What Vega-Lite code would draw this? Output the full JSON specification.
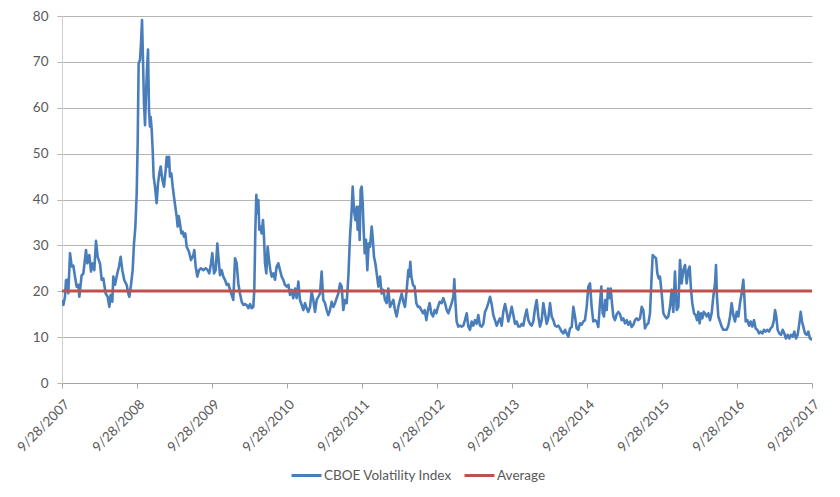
{
  "$schema": "https://vega.github.io/schema/vega-lite/v6.json",
  "width": 750,
  "height": 367,
  "autosize": {"type": "none"},
  "padding": {"left": 62, "top": 16, "right": 28, "bottom": 114},
  "background": "white",
  "config": {"view": {"stroke": null}, "font": "Lato"},
  "datasets": {
    "vix": [
      {"years":0.000,"vix":18.1},{"years":0.018,"vix":17.0},{"years":0.040,"vix":18.8},{"years":0.053,"vix":22.4},{"years":0.071,"vix":22.5},{"years":0.084,"vix":19.6},{"years":0.107,"vix":28.3},{"years":0.129,"vix":25.4},{"years":0.151,"vix":25.6},{"years":0.173,"vix":23.2},{"years":0.196,"vix":21.0},{"years":0.218,"vix":21.4},{"years":0.231,"vix":18.8},{"years":0.262,"vix":23.5},{"years":0.284,"vix":23.8},{"years":0.320,"vix":29.0},{"years":0.338,"vix":26.1},{"years":0.364,"vix":27.9},{"years":0.387,"vix":24.3},{"years":0.409,"vix":26.1},{"years":0.431,"vix":24.6},{"years":0.453,"vix":31.0},{"years":0.476,"vix":27.5},{"years":0.507,"vix":26.0},{"years":0.529,"vix":22.5},{"years":0.551,"vix":22.8},{"years":0.582,"vix":19.5},{"years":0.609,"vix":18.8},{"years":0.631,"vix":16.6},{"years":0.649,"vix":19.2},{"years":0.671,"vix":17.7},{"years":0.684,"vix":23.2},{"years":0.707,"vix":21.4},{"years":0.738,"vix":23.9},{"years":0.760,"vix":25.4},{"years":0.782,"vix":27.5},{"years":0.804,"vix":24.6},{"years":0.831,"vix":22.4},{"years":0.862,"vix":21.4},{"years":0.884,"vix":19.5},{"years":0.898,"vix":18.8},{"years":0.920,"vix":21.4},{"years":0.942,"vix":24.6},{"years":0.960,"vix":30.4},{"years":0.978,"vix":34.0},{"years":0.996,"vix":41.3},{"years":1.009,"vix":52.2},{"years":1.022,"vix":69.7},{"years":1.040,"vix":70.4},{"years":1.053,"vix":74.0},{"years":1.067,"vix":79.1},{"years":1.080,"vix":70.4},{"years":1.093,"vix":61.0},{"years":1.107,"vix":56.2},{"years":1.120,"vix":63.1},{"years":1.133,"vix":68.2},{"years":1.147,"vix":72.7},{"years":1.160,"vix":59.5},{"years":1.173,"vix":55.9},{"years":1.182,"vix":58.0},{"years":1.196,"vix":55.2},{"years":1.209,"vix":50.8},{"years":1.222,"vix":45.0},{"years":1.240,"vix":42.8},{"years":1.262,"vix":39.2},{"years":1.280,"vix":43.5},{"years":1.298,"vix":45.7},{"years":1.316,"vix":47.2},{"years":1.338,"vix":44.3},{"years":1.360,"vix":42.8},{"years":1.382,"vix":46.4},{"years":1.396,"vix":49.3},{"years":1.413,"vix":47.2},{"years":1.427,"vix":49.3},{"years":1.440,"vix":45.0},{"years":1.458,"vix":45.7},{"years":1.476,"vix":42.8},{"years":1.493,"vix":40.6},{"years":1.511,"vix":38.4},{"years":1.529,"vix":36.3},{"years":1.542,"vix":34.1},{"years":1.556,"vix":36.4},{"years":1.573,"vix":34.8},{"years":1.591,"vix":32.6},{"years":1.609,"vix":33.0},{"years":1.627,"vix":31.9},{"years":1.644,"vix":32.6},
      {"years":1.662,"vix":29.7},{"years":1.693,"vix":28.6},{"years":1.720,"vix":26.8},{"years":1.751,"vix":27.9},{"years":1.764,"vix":29.0},{"years":1.782,"vix":25.4},{"years":1.804,"vix":23.2},{"years":1.827,"vix":24.6},{"years":1.853,"vix":25.0},{"years":1.884,"vix":24.6},{"years":1.916,"vix":25.0},{"years":1.942,"vix":24.6},{"years":1.964,"vix":23.9},{"years":1.987,"vix":26.1},{"years":2.004,"vix":28.3},{"years":2.027,"vix":23.9},{"years":2.049,"vix":24.6},{"years":2.071,"vix":30.4},{"years":2.089,"vix":26.8},{"years":2.107,"vix":23.5},{"years":2.129,"vix":24.6},{"years":2.151,"vix":23.2},{"years":2.173,"vix":22.5},{"years":2.196,"vix":21.4},{"years":2.218,"vix":21.6},{"years":2.240,"vix":20.3},{"years":2.262,"vix":19.2},{"years":2.284,"vix":18.1},{"years":2.307,"vix":27.2},{"years":2.329,"vix":26.1},{"years":2.351,"vix":21.7},{"years":2.373,"vix":19.5},{"years":2.396,"vix":17.7},{"years":2.418,"vix":17.0},{"years":2.440,"vix":17.2},{"years":2.462,"vix":17.0},{"years":2.484,"vix":16.3},{"years":2.507,"vix":17.2},{"years":2.529,"vix":16.3},{"years":2.551,"vix":16.6},{"years":2.564,"vix":20.3},{"years":2.578,"vix":33.4},{"years":2.591,"vix":41.0},{"years":2.604,"vix":37.0},{"years":2.618,"vix":39.9},{"years":2.631,"vix":33.4},{"years":2.644,"vix":34.1},{"years":2.662,"vix":32.6},{"years":2.680,"vix":35.5},{"years":2.693,"vix":31.9},{"years":2.707,"vix":26.1},{"years":2.724,"vix":23.9},{"years":2.742,"vix":29.7},{"years":2.760,"vix":26.8},{"years":2.778,"vix":24.6},{"years":2.796,"vix":23.2},{"years":2.818,"vix":23.9},{"years":2.840,"vix":22.5},{"years":2.862,"vix":25.4},{"years":2.884,"vix":26.1},{"years":2.907,"vix":24.6},{"years":2.929,"vix":23.2},{"years":2.951,"vix":22.5},{"years":2.973,"vix":21.4},{"years":2.996,"vix":21.0},{"years":3.018,"vix":21.4},{"years":3.040,"vix":19.2},{"years":3.062,"vix":20.3},{"years":3.084,"vix":18.5},{"years":3.107,"vix":20.6},{"years":3.129,"vix":18.5},{"years":3.151,"vix":22.1},{"years":3.173,"vix":18.1},{"years":3.196,"vix":17.0},{"years":3.218,"vix":15.9},{"years":3.240,"vix":17.4},{"years":3.262,"vix":16.3},{"years":3.284,"vix":15.5},{"years":3.307,"vix":16.6},{"years":3.329,"vix":19.9},{"years":3.351,"vix":18.1},{"years":3.373,"vix":15.5},
      {"years":3.396,"vix":18.1},{"years":3.418,"vix":18.8},{"years":3.440,"vix":19.5},{"years":3.462,"vix":24.3},{"years":3.484,"vix":18.1},{"years":3.507,"vix":17.4},{"years":3.529,"vix":15.9},{"years":3.551,"vix":14.8},{"years":3.573,"vix":15.9},{"years":3.596,"vix":17.7},{"years":3.618,"vix":16.6},{"years":3.640,"vix":17.4},{"years":3.662,"vix":18.5},{"years":3.684,"vix":19.5},{"years":3.707,"vix":21.7},{"years":3.729,"vix":21.0},{"years":3.751,"vix":15.9},{"years":3.773,"vix":18.1},{"years":3.796,"vix":17.4},{"years":3.818,"vix":23.2},{"years":3.840,"vix":31.9},{"years":3.862,"vix":37.7},{"years":3.876,"vix":42.8},{"years":3.893,"vix":37.7},{"years":3.911,"vix":35.5},{"years":3.929,"vix":38.4},{"years":3.942,"vix":33.4},{"years":3.956,"vix":38.4},{"years":3.969,"vix":31.2},{"years":3.982,"vix":42.1},{"years":3.996,"vix":42.8},{"years":4.009,"vix":39.2},{"years":4.022,"vix":33.4},{"years":4.036,"vix":28.3},{"years":4.053,"vix":31.2},{"years":4.071,"vix":24.6},{"years":4.089,"vix":30.4},{"years":4.107,"vix":29.7},{"years":4.129,"vix":34.1},{"years":4.142,"vix":31.9},{"years":4.160,"vix":27.5},{"years":4.178,"vix":26.1},{"years":4.196,"vix":23.9},{"years":4.218,"vix":21.0},{"years":4.240,"vix":23.2},{"years":4.262,"vix":19.5},{"years":4.284,"vix":20.3},{"years":4.307,"vix":18.1},{"years":4.329,"vix":17.4},{"years":4.351,"vix":20.6},{"years":4.373,"vix":16.6},{"years":4.396,"vix":17.4},{"years":4.418,"vix":18.1},{"years":4.440,"vix":15.9},{"years":4.462,"vix":14.5},{"years":4.484,"vix":16.6},{"years":4.507,"vix":18.1},{"years":4.529,"vix":19.5},{"years":4.551,"vix":17.7},{"years":4.573,"vix":16.6},{"years":4.596,"vix":20.3},{"years":4.618,"vix":24.6},{"years":4.631,"vix":23.2},{"years":4.644,"vix":26.4},{"years":4.658,"vix":23.2},{"years":4.680,"vix":21.4},{"years":4.702,"vix":21.0},{"years":4.724,"vix":17.4},{"years":4.747,"vix":16.6},{"years":4.769,"vix":16.6},{"years":4.791,"vix":15.9},{"years":4.813,"vix":15.2},{"years":4.836,"vix":15.9},{"years":4.858,"vix":13.7},{"years":4.880,"vix":15.9},{"years":4.902,"vix":17.4},{"years":4.924,"vix":15.2},{"years":4.947,"vix":14.5},{"years":4.969,"vix":15.9},{"years":4.991,"vix":15.2},{"years":5.013,"vix":16.6},{"years":5.036,"vix":17.7},
      {"years":5.062,"vix":17.4},{"years":5.084,"vix":18.5},{"years":5.107,"vix":17.4},{"years":5.129,"vix":15.9},{"years":5.151,"vix":15.2},{"years":5.173,"vix":16.3},{"years":5.196,"vix":17.4},{"years":5.218,"vix":18.8},{"years":5.231,"vix":22.6},{"years":5.244,"vix":18.1},{"years":5.262,"vix":13.4},{"years":5.284,"vix":12.3},{"years":5.307,"vix":12.5},{"years":5.329,"vix":12.3},{"years":5.351,"vix":12.5},{"years":5.373,"vix":13.7},{"years":5.396,"vix":15.2},{"years":5.418,"vix":12.3},{"years":5.440,"vix":11.6},{"years":5.462,"vix":13.4},{"years":5.484,"vix":12.5},{"years":5.507,"vix":13.7},{"years":5.529,"vix":12.9},{"years":5.551,"vix":14.8},{"years":5.573,"vix":12.5},{"years":5.596,"vix":12.3},{"years":5.618,"vix":12.9},{"years":5.640,"vix":15.5},{"years":5.662,"vix":16.3},{"years":5.684,"vix":17.4},{"years":5.707,"vix":18.8},{"years":5.729,"vix":17.2},{"years":5.751,"vix":14.8},{"years":5.773,"vix":13.7},{"years":5.796,"vix":12.5},{"years":5.818,"vix":13.4},{"years":5.840,"vix":14.1},{"years":5.862,"vix":12.5},{"years":5.884,"vix":15.5},{"years":5.907,"vix":17.2},{"years":5.929,"vix":15.5},{"years":5.951,"vix":13.4},{"years":5.973,"vix":14.8},{"years":5.996,"vix":16.6},{"years":6.018,"vix":14.8},{"years":6.040,"vix":12.9},{"years":6.062,"vix":13.4},{"years":6.084,"vix":12.3},{"years":6.107,"vix":12.3},{"years":6.129,"vix":12.9},{"years":6.151,"vix":12.5},{"years":6.173,"vix":14.5},{"years":6.196,"vix":16.0},{"years":6.218,"vix":13.7},{"years":6.240,"vix":12.9},{"years":6.262,"vix":12.5},{"years":6.284,"vix":13.4},{"years":6.307,"vix":16.3},{"years":6.329,"vix":18.1},{"years":6.351,"vix":14.5},{"years":6.373,"vix":12.3},{"years":6.396,"vix":13.7},{"years":6.418,"vix":17.4},{"years":6.440,"vix":15.2},{"years":6.462,"vix":12.9},{"years":6.484,"vix":14.1},{"years":6.507,"vix":17.4},{"years":6.529,"vix":14.5},{"years":6.551,"vix":13.7},{"years":6.573,"vix":12.5},{"years":6.596,"vix":12.3},{"years":6.618,"vix":12.5},{"years":6.640,"vix":11.9},{"years":6.662,"vix":11.2},{"years":6.684,"vix":10.8},{"years":6.707,"vix":11.6},
      {"years":6.729,"vix":10.8},{"years":6.751,"vix":10.1},{"years":6.773,"vix":11.9},{"years":6.796,"vix":12.2},{"years":6.818,"vix":16.6},{"years":6.840,"vix":14.5},{"years":6.862,"vix":11.9},{"years":6.884,"vix":11.6},{"years":6.907,"vix":13.0},{"years":6.929,"vix":12.7},{"years":6.951,"vix":13.4},{"years":6.973,"vix":13.7},{"years":6.996,"vix":16.6},{"years":7.018,"vix":21.0},{"years":7.040,"vix":21.7},{"years":7.062,"vix":16.6},{"years":7.084,"vix":13.4},{"years":7.107,"vix":13.7},{"years":7.129,"vix":13.4},{"years":7.151,"vix":12.2},{"years":7.173,"vix":17.4},{"years":7.191,"vix":21.0},{"years":7.209,"vix":15.2},{"years":7.227,"vix":14.5},{"years":7.244,"vix":18.1},{"years":7.262,"vix":15.9},{"years":7.280,"vix":20.6},{"years":7.298,"vix":18.5},{"years":7.316,"vix":20.6},{"years":7.333,"vix":17.4},{"years":7.351,"vix":14.5},{"years":7.373,"vix":13.7},{"years":7.396,"vix":15.0},{"years":7.418,"vix":15.5},{"years":7.440,"vix":15.0},{"years":7.462,"vix":13.7},{"years":7.484,"vix":14.1},{"years":7.507,"vix":13.0},{"years":7.529,"vix":13.7},{"years":7.551,"vix":12.7},{"years":7.573,"vix":13.4},{"years":7.596,"vix":12.2},{"years":7.618,"vix":12.7},{"years":7.640,"vix":13.7},{"years":7.662,"vix":14.1},{"years":7.684,"vix":13.7},{"years":7.707,"vix":14.1},{"years":7.729,"vix":16.6},{"years":7.751,"vix":15.9},{"years":7.773,"vix":11.9},{"years":7.796,"vix":12.7},{"years":7.818,"vix":13.0},{"years":7.840,"vix":15.2},{"years":7.862,"vix":23.2},{"years":7.876,"vix":27.9},{"years":7.898,"vix":27.5},{"years":7.920,"vix":27.2},{"years":7.938,"vix":23.9},{"years":7.956,"vix":22.8},{"years":7.973,"vix":23.2},{"years":7.996,"vix":19.5},{"years":8.018,"vix":15.2},{"years":8.040,"vix":14.5},{"years":8.062,"vix":14.1},{"years":8.084,"vix":14.5},{"years":8.107,"vix":16.6},{"years":8.129,"vix":20.3},{"years":8.151,"vix":15.5},{"years":8.173,"vix":24.3},{"years":8.196,"vix":15.9},{"years":8.218,"vix":16.6},{"years":8.240,"vix":26.8},{"years":8.262,"vix":21.7},{"years":8.284,"vix":24.6},{"years":8.307,"vix":25.7},
      {"years":8.329,"vix":21.7},{"years":8.351,"vix":24.6},{"years":8.369,"vix":25.4},{"years":8.387,"vix":20.3},{"years":8.404,"vix":17.4},{"years":8.427,"vix":15.2},{"years":8.449,"vix":14.8},{"years":8.467,"vix":13.7},{"years":8.484,"vix":15.5},{"years":8.502,"vix":13.0},{"years":8.520,"vix":15.2},{"years":8.538,"vix":14.1},{"years":8.556,"vix":15.5},{"years":8.573,"vix":15.2},{"years":8.596,"vix":14.5},{"years":8.618,"vix":15.2},{"years":8.640,"vix":13.7},{"years":8.662,"vix":15.2},{"years":8.684,"vix":18.8},{"years":8.707,"vix":21.7},{"years":8.720,"vix":25.7},{"years":8.733,"vix":18.8},{"years":8.751,"vix":14.5},{"years":8.773,"vix":13.4},{"years":8.796,"vix":12.3},{"years":8.818,"vix":11.6},{"years":8.840,"vix":11.6},{"years":8.862,"vix":11.6},{"years":8.884,"vix":12.5},{"years":8.907,"vix":14.5},{"years":8.929,"vix":17.4},{"years":8.951,"vix":14.8},{"years":8.973,"vix":13.4},{"years":8.996,"vix":15.5},{"years":9.018,"vix":14.5},{"years":9.040,"vix":17.4},{"years":9.062,"vix":19.5},{"years":9.084,"vix":22.5},{"years":9.098,"vix":18.8},{"years":9.116,"vix":13.4},{"years":9.138,"vix":13.7},{"years":9.160,"vix":12.5},{"years":9.182,"vix":13.4},{"years":9.204,"vix":12.3},{"years":9.227,"vix":13.7},{"years":9.249,"vix":11.9},{"years":9.271,"vix":11.6},{"years":9.293,"vix":10.8},{"years":9.316,"vix":11.2},{"years":9.338,"vix":10.8},{"years":9.360,"vix":11.6},{"years":9.382,"vix":11.2},{"years":9.404,"vix":11.6},{"years":9.427,"vix":11.2},{"years":9.449,"vix":11.9},{"years":9.471,"vix":12.3},{"years":9.493,"vix":13.7},{"years":9.507,"vix":15.9},{"years":9.524,"vix":14.5},{"years":9.542,"vix":11.6},{"years":9.564,"vix":10.8},{"years":9.587,"vix":10.5},{"years":9.609,"vix":11.6},{"years":9.631,"vix":10.8},{"years":9.653,"vix":9.7},{"years":9.676,"vix":10.5},{"years":9.698,"vix":9.7},{"years":9.720,"vix":10.5},{"years":9.742,"vix":10.1},{"years":9.764,"vix":11.2},{"years":9.787,"vix":9.7},{"years":9.809,"vix":10.5},{"years":9.831,"vix":13.0},{"years":9.849,"vix":15.5},{"years":9.867,"vix":13.4},{"years":9.884,"vix":12.3},{"years":9.907,"vix":10.8},{"years":9.929,"vix":10.5},{"years":9.951,"vix":11.2},{"years":9.973,"vix":9.7},{"years":10.000,"vix":9.4}
    ],
    "avg": [{"years": 0, "vix": 20.05}, {"years": 10, "vix": 20.05}]
  },
  "layer": [
    {
      "data": {"name": "vix"},
      "mark": {"type": "line", "strokeWidth": 2.6, "strokeJoin": "round", "clip": true},
      "encoding": {
        "x": {
          "field": "years", "type": "quantitative",
          "scale": {"domain": [0, 10], "nice": false, "zero": false},
          "axis": {
            "title": null,
            "values": [0, 1, 2, 3, 4, 5, 6, 7, 8, 9, 10],
            "labelExpr": "'9/28/' + (2007 + datum.value)",
            "labelAngle": -45,
            "labelFontSize": 13.5,
            "labelColor": "#595959",
            "labelPadding": 9,
            "labelBound": false,
            "labelOverlap": false,
            "labelFlush": false,
            "grid": false,
            "domainColor": "#a6a6a6",
            "tickColor": "#a6a6a6",
            "tickSize": 5
          }
        },
        "y": {
          "field": "vix", "type": "quantitative",
          "scale": {"domain": [0, 80], "nice": false},
          "axis": {
            "title": null,
            "values": [0, 10, 20, 30, 40, 50, 60, 70, 80],
            "labelFontSize": 13.5,
            "labelColor": "#595959",
            "labelPadding": 9,
            "grid": true,
            "gridColor": "#b5b5b5",
            "gridWidth": 1,
            "domainColor": "#d0d0d0",
            "tickColor": "#b5b5b5",
            "tickSize": 5
          }
        },
        "color": {
          "datum": "CBOE Volatility Index", "type": "nominal",
          "scale": {"domain": ["CBOE Volatility Index", "Average"], "range": ["#4a7ebb", "#c0504d"]},
          "legend": {
            "title": null,
            "orient": "none",
            "legendX": 228,
            "legendY": 443,
            "direction": "horizontal",
            "symbolType": "stroke",
            "symbolStrokeWidth": 3,
            "symbolSize": 900,
            "labelFontSize": 13.5,
            "labelColor": "#595959",
            "labelOffset": 1,
            "columnPadding": 6
          }
        }
      }
    },
    {
      "data": {"name": "avg"},
      "mark": {"type": "line", "strokeWidth": 3},
      "encoding": {
        "x": {"field": "years", "type": "quantitative"},
        "y": {"field": "vix", "type": "quantitative"},
        "color": {"datum": "Average", "type": "nominal"}
      }
    }
  ]
}
